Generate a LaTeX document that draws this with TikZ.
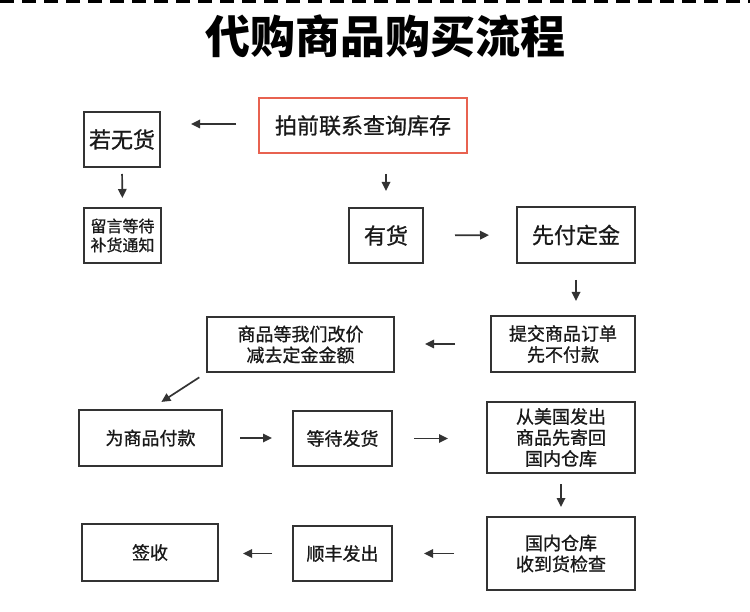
\documentclass[tikz,border=0pt]{standalone}
\usepackage{fontspec}
\setmainfont{Noto Sans CJK SC}
\newfontfamily\medfont{Noto Sans CJK SC}[FakeBold=0.9]
\usetikzlibrary{arrows.meta}
\definecolor{boxline}{RGB}{51,51,51}
\definecolor{redline}{RGB}{232,98,80}
\definecolor{ink}{RGB}{25,25,25}
\tikzset{
  box/.style={draw=boxline, line width=2pt, text=ink, align=center, inner sep=0pt},
  big/.style={font=\medfont\fontsize{22}{26}\selectfont},
  mid/.style={font=\medfont\fontsize{18}{21}\selectfont},
  small/.style={font=\medfont\fontsize{16}{19}\selectfont},
  arr/.style={draw=boxline, line width=1.7pt, -{Triangle[length=9pt,width=8.5pt]}},
}
\begin{document}
\begin{tikzpicture}[x=1pt,y=-1pt]
\useasboundingbox (0,0) rectangle (750,612);
\fill[white] (0,0) rectangle (750,612);
\draw[line width=3pt, black, dash pattern=on 14pt off 8pt] (0,1.5) -- (750,1.5);
\node[text=black, font=\fontsize{45}{50}\selectfont\bfseries] (title) at (385,36) {代购商品购买流程};

\node[box, big, draw=redline, minimum width=208pt, minimum height=55pt] (q) at (363,125.5) {拍前联系查询库存};
\node[box, big, minimum width=76pt, minimum height=55pt] (n) at (122,139.5) {若无货};
\node[box, small, minimum width=77pt, minimum height=55pt] (m) at (122.5,235.5) {留言等待\\补货通知};
\node[box, big, minimum width=74pt, minimum height=55pt] (y) at (386,235.5) {有货};
\node[box, big, minimum width=118pt, minimum height=56pt] (d) at (576,235) {先付定金};
\node[box, mid, minimum width=144pt, minimum height=56pt] (o) at (563,344) {提交商品订单\\先不付款};
\node[box, mid, minimum width=187pt, minimum height=55pt] (g) at (300.5,344.5) {商品等我们改价\\减去定金金额};
\node[box, mid, minimum width=143pt, minimum height=56pt] (p) at (150.5,438) {为商品付款};
\node[box, mid, minimum width=99pt, minimum height=55pt] (w) at (342.5,438.5) {等待发货};
\node[box, mid, minimum width=148pt, minimum height=71pt] (s) at (561,437.5) {从美国发出\\商品先寄回\\国内仓库};
\node[box, mid, minimum width=148pt, minimum height=73pt] (c) at (561,553.5) {国内仓库\\收到货检查};
\node[box, mid, minimum width=99pt, minimum height=55pt] (f) at (342.5,553.5) {顺丰发出};
\node[box, mid, minimum width=136pt, minimum height=57pt] (k) at (150,552.5) {签收};

\draw[arr, shorten <=22pt, shorten >=30pt] ([yshift=1.5pt]q.west) -- ([yshift=1.5pt]q.west -| n.east);
\draw[arr, shorten <=6pt, shorten >=9pt] (n.south) -- (m.north);
\draw[arr, shorten <=20pt, shorten >=16pt] (q.south -| y.north) -- (y.north);
\draw[arr, shorten <=31pt, shorten >=27pt] (y.east) -- (d.west);
\draw[arr, shorten <=16pt, shorten >=14pt] (d.south) -- (d.south |- o.north);
\draw[arr, shorten <=35pt, shorten >=30pt] (o.west) -- (o.west -| g.east);
\draw[arr, shorten <=8pt, shorten >=13pt] (g.south west) -- (p.north);
\draw[arr, shorten <=17pt, shorten >=20pt] (p.east) -- (p.east -| w.west);
\draw[arr, shorten <=21pt, shorten >=38pt] (w.east) -- (w.east -| s.west);
\draw[arr, shorten <=10pt, shorten >=9pt] (s.south) -- (c.north);
\draw[arr, shorten <=32pt, shorten >=31pt] (c.west) -- (c.west -| f.east);
\draw[arr, shorten <=20pt, shorten >=24pt] (f.west) -- (f.west -| k.east);
\end{tikzpicture}
\end{document}
